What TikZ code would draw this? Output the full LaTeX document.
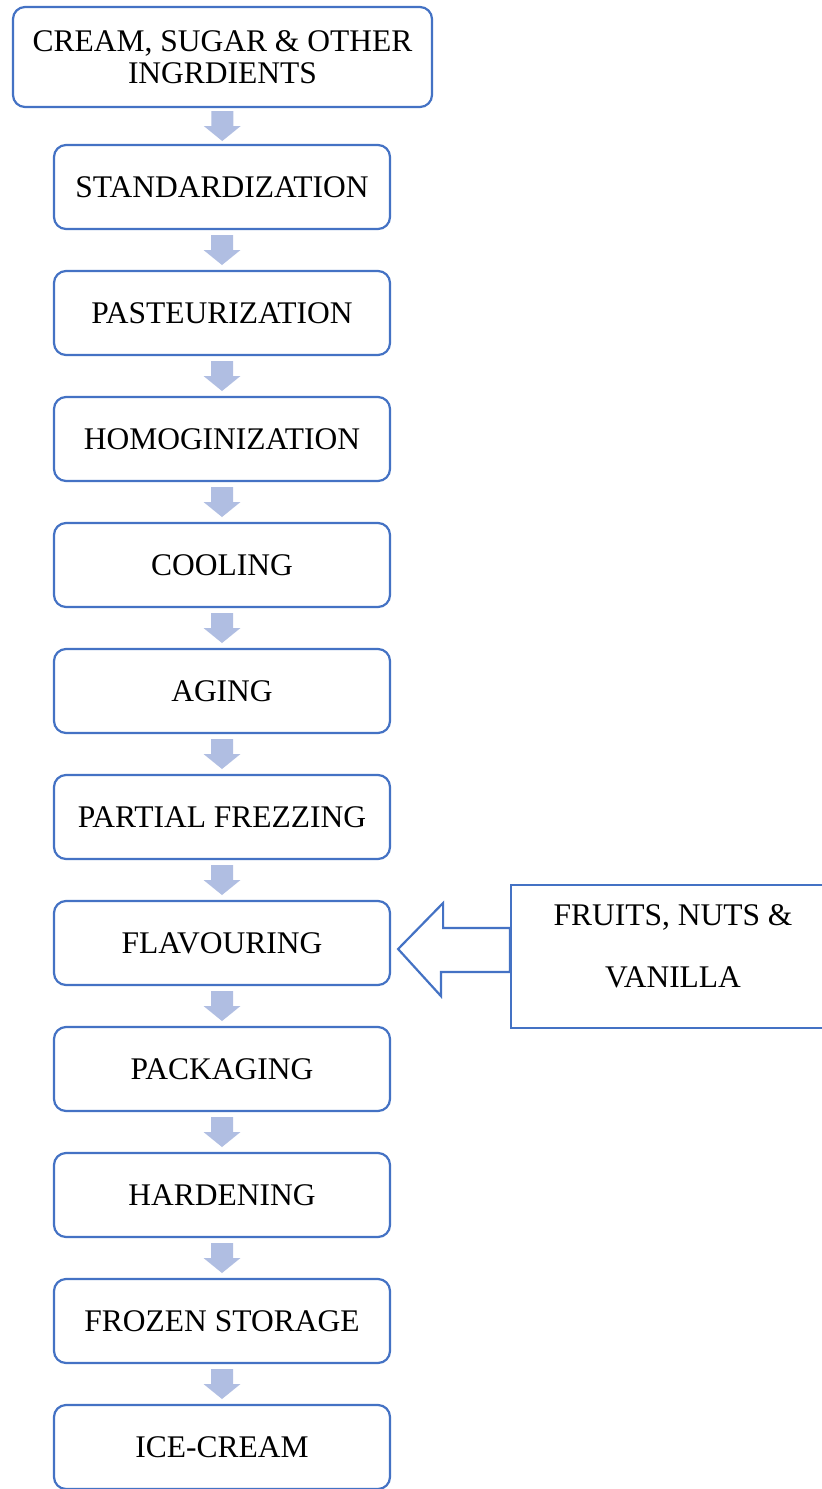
\documentclass[tikz,border=0pt]{standalone}
\usepackage{fontspec}
\setmainfont{Liberation Serif}
\usetikzlibrary{calc}
\definecolor{boxblue}{HTML}{4472C4}
\definecolor{arrowfill}{RGB}{176,190,226}
\tikzset{
  stepbox/.style={draw=boxblue, line width=2.2pt, rounded corners=12pt, fill=white,
    minimum width=336pt, minimum height=84pt, inner sep=0pt, align=center,
    font=\fontsize{31.5}{31.5}\selectfont},
  sidebox/.style={draw=boxblue, line width=2.2pt, fill=white,
    minimum width=324pt, minimum height=143pt, inner sep=0pt},
  sidetext/.style={align=center, inner sep=0pt, font=\fontsize{31.5}{62}\selectfont},
  flowarrow/.style={fill=arrowfill, draw=none},
  bigarrow/.style={draw=boxblue, line width=2.2pt, fill=white, line join=miter}
}
\newcommand\flowarr[2]{%
  \fill[flowarrow] ($(#1.south)!0.5!(#2.north)$) ++(-11,-15) -- ++(22,0) -- ++(0,15)
    -- ++(7.5,0) -- ++(-18.5,15) -- ++(-18.5,-15) -- ++(7.5,0) -- cycle;}
\begin{document}
\begin{tikzpicture}[x=1pt,y=-1pt]
\clip (0,0) rectangle (822,1489);
\fill[white] (0,0) rectangle (822,1489);
\node[stepbox, minimum width=419pt, minimum height=100pt] (src) at (222.5,57) {CREAM, SUGAR \& OTHER\\INGRDIENTS};
\node[stepbox] (std)  at (222,187)  {STANDARDIZATION};
\node[stepbox] (past) at (222,313)  {PASTEURIZATION};
\node[stepbox] (homo) at (222,439)  {HOMOGINIZATION};
\node[stepbox] (cool) at (222,565)  {COOLING};
\node[stepbox] (age)  at (222,691)  {AGING};
\node[stepbox] (part) at (222,817)  {PARTIAL FREZZING};
\node[stepbox] (flav) at (222,943)  {FLAVOURING};
\node[stepbox] (pack) at (222,1069) {PACKAGING};
\node[stepbox] (hard) at (222,1195) {HARDENING};
\node[stepbox] (froz) at (222,1321) {FROZEN STORAGE};
\node[stepbox] (ice)  at (222,1447) {ICE-CREAM};
\foreach \a/\b in {src/std, std/past, past/homo, homo/cool, cool/age, age/part,
                   part/flav, flav/pack, pack/hard, hard/froz, froz/ice}
  {\flowarr{\a}{\b}}
\node[sidebox] (fruit) at (673,956.5) {};
\node[sidetext] (fruittext) at (673,946.5) {FRUITS, NUTS \&\\VANILLA};
\coordinate (tip) at ($(flav.east)+(7,6)$);
\draw[bigarrow] (tip) -- ++(45,-46) -- ++(0,25) -- ($(fruit.west |- tip)+(0,-21)$)
  -- ($(fruit.west |- tip)+(0,23)$) -- ++(-69,0) -- ++(0,24) -- cycle;
\end{tikzpicture}
\end{document}
